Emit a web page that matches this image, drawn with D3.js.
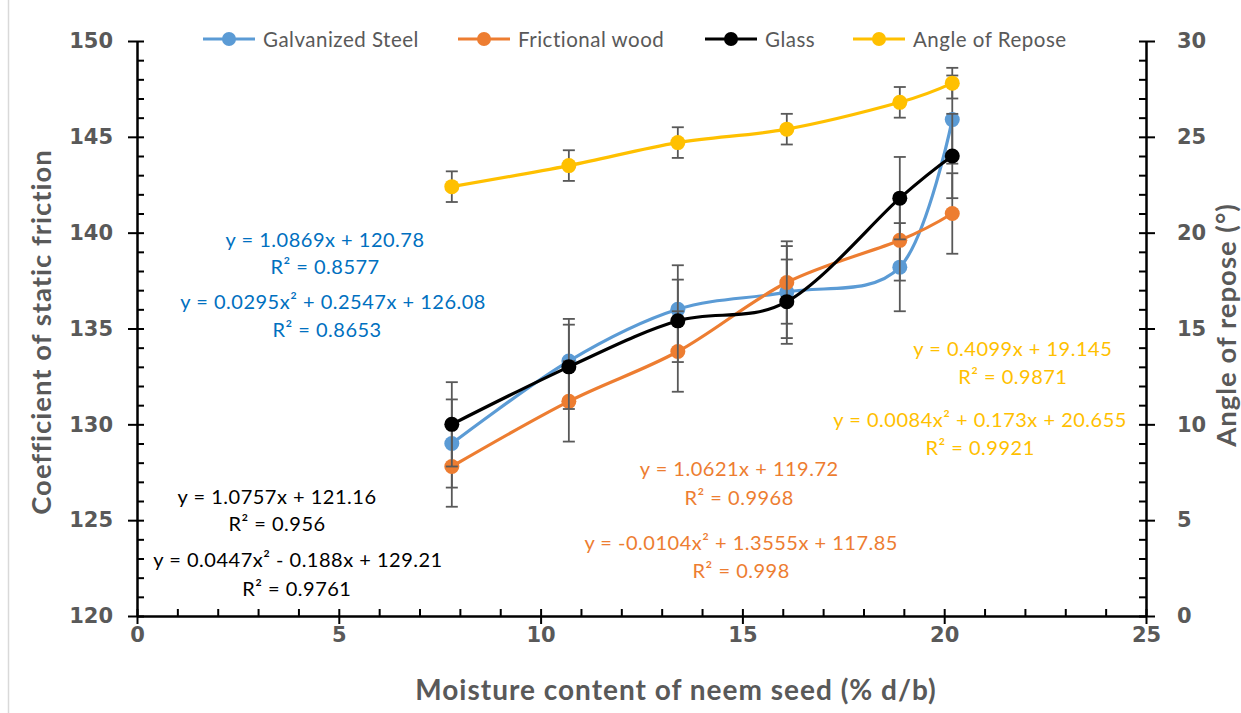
<!DOCTYPE html>
<html>
<head>
<meta charset="utf-8">
<script src="https://cdn.jsdelivr.net/npm/d3@7"></script>
<style>
    body { margin: 0; background: #fff; }
    svg { display: block; }
</style>
</head>
<body>
<svg id="drawing_region"></svg>
<script>
// moisture content (% d/b)
const moisture = [7.8, 10.7, 13.4, 16.1, 18.9, 20.2];

// coefficient of static friction (left axis)
const steel = [129.0, 133.3, 136.0, 136.9, 138.2, 145.9];
const wood = [127.8, 131.2, 133.8, 137.4, 139.6, 141.0];
const glass = [130.0, 133.0, 135.4, 136.4, 141.8, 144.0];

// angle of repose (right axis)
const repose = [22.4, 23.5, 24.7, 25.4, 26.8, 27.8];

// error bar half-lengths
const steelErr = [2.3, 2.2, 2.3, 2.4, 2.3, 2.3];
const woodErr = [2.1, 2.1, 2.1, 2.15, 2.1, 2.1];
const glassErr = [2.2, 2.2, 2.15, 2.2, 2.15, 2.2];
const reposeErr = [0.8, 0.8, 0.8, 0.8, 0.8, 0.8];

const seriesNames = ['Galvanized Steel', 'Frictional wood', 'Glass', 'Angle of Repose'];

const xTicks = [0, 5, 10, 15, 20, 25];
const yLeftTicks = [120, 125, 130, 135, 140, 145, 150];
const yRightTicks = [0, 5, 10, 15, 20, 25, 30];

// trendline equations: [x, y(left axis units), text]
const steelEq = [
    [4.66, 139.67, 'y = 1.0869x + 120.78'],
    [4.66, 138.26, 'R² = 0.8577'],
    [4.86, 136.43, 'y = 0.0295x² + 0.2547x + 126.08'],
    [4.71, 134.97, 'R² = 0.8653']
];
const glassEq = [
    [3.47, 126.26, 'y = 1.0757x + 121.16'],
    [3.47, 124.85, 'R² = 0.956'],
    [3.99, 122.97, 'y = 0.0447x² - 0.188x + 129.21'],
    [3.96, 121.46, 'R² = 0.9761']
];
const woodEq = [
    [14.92, 127.72, 'y = 1.0621x + 119.72'],
    [14.92, 126.21, 'R² = 0.9968'],
    [14.97, 123.86, 'y = -0.0104x² + 1.3555x + 117.85'],
    [14.97, 122.40, 'R² = 0.998']
];
const reposeEq = [
    [21.70, 133.98, 'y = 0.4099x + 19.145'],
    [21.70, 132.52, 'R² = 0.9871'],
    [20.89, 130.28, 'y = 0.0084x² + 0.173x + 20.655'],
    [20.89, 128.82, 'R² = 0.9921']
];

const config = {
    width: 1241,
    height: 713,
    left: 137,
    right: 1146,
    top: 41,
    bottom: 616
};

const grey = '#595959';
const colors = ['#5B9BD5', '#ED7D31', '#000000', '#FFC000'];
const textColors = ['#0070C0', '#ED7D31', '#000000', '#FFC000'];

const svg = d3.select('#drawing_region')
    .attr('width', config.width)
    .attr('height', config.height);

// faint frame edge on the left
svg.append('line')
    .attr('x1', 8.5).attr('x2', 8.5)
    .attr('y1', 0).attr('y2', config.height)
    .attr('stroke', '#d9d9d9').attr('stroke-width', 1.5);

const xscale = d3.scaleLinear().domain([0, 25]).range([config.left, config.right]);
const yleft = d3.scaleLinear().domain([120, 150]).range([config.bottom, config.top]);
const yright = d3.scaleLinear().domain([0, 30]).range([config.bottom, config.top]);

const tickFont = 'DejaVu Sans, sans-serif';
const labelFont = 'Lato, sans-serif';

function styleAxis(g) {
    g.select('.domain').attr('stroke', '#000').attr('stroke-width', 2);
    g.selectAll('.tick line').attr('stroke', '#000').attr('stroke-width', 2);
    g.selectAll('.tick text')
        .attr('fill', grey)
        .style('font-family', tickFont)
        .style('font-weight', 'bold')
        .style('font-size', '21px');
}

// minor ticks (inside)
const minor = d3.range(0, 26);
svg.append('g')
    .attr('transform', `translate(0, ${config.bottom})`)
    .call(d3.axisBottom(xscale).tickValues(minor).tickSizeInner(-7).tickSizeOuter(0).tickFormat(''))
    .call(styleAxis);
svg.append('g')
    .attr('transform', `translate(${config.left}, 0)`)
    .call(d3.axisLeft(yleft).tickValues(d3.range(120, 151)).tickSizeInner(-7).tickSizeOuter(0).tickFormat(''))
    .call(styleAxis);
svg.append('g')
    .attr('transform', `translate(${config.right}, 0)`)
    .call(d3.axisRight(yright).tickValues(d3.range(0, 31)).tickSizeInner(-7).tickSizeOuter(0).tickFormat(''))
    .call(styleAxis);

// major ticks (outside) with labels
svg.append('g')
    .attr('transform', `translate(0, ${config.bottom})`)
    .call(d3.axisBottom(xscale).tickValues(xTicks).tickSizeInner(8).tickSizeOuter(0).tickPadding(3))
    .call(styleAxis);
svg.append('g')
    .attr('transform', `translate(${config.left}, 0)`)
    .call(d3.axisLeft(yleft).tickValues(yLeftTicks).tickSizeInner(9).tickSizeOuter(0).tickPadding(15))
    .call(styleAxis);
svg.append('g')
    .attr('transform', `translate(${config.right}, 0)`)
    .call(d3.axisRight(yright).tickValues(yRightTicks).tickSizeInner(9).tickSizeOuter(0).tickPadding(22))
    .call(styleAxis);

// axis titles
const titleStyle = t => t
    .attr('fill', grey)
    .attr('text-anchor', 'middle')
    .style('font-family', labelFont)
    .style('font-weight', 'bold')
    .style('font-size', '28px')
    .style('letter-spacing', '1px');

svg.append('text')
    .attr('x', 676)
    .attr('y', 700)
    .call(titleStyle)
    .text('Moisture content of neem seed (% d/b)');

svg.append('text')
    .attr('transform', `translate(40, 332) rotate(-90)`)
    .attr('dominant-baseline', 'central')
    .call(titleStyle)
    .style('font-size', '27.5px')
    .text('Coefficient of static friction');

svg.append('text')
    .attr('transform', `translate(1225, 325) rotate(-90)`)
    .attr('dominant-baseline', 'central')
    .call(titleStyle)
    .style('font-size', '27.5px')
    .text('Angle of repose (°)');

// series
const series = [
    { values: steel, err: steelErr, y: yleft },
    { values: wood, err: woodErr, y: yleft },
    { values: glass, err: glassErr, y: yleft },
    { values: repose, err: reposeErr, y: yright }
];

const line = (yscale) => d3.line()
    .x(d => xscale(d[0]))
    .y(d => yscale(d[1]))
    .curve(d3.curveCatmullRom.alpha(0));

series.forEach((s, i) => {
    const pts = moisture.map((x, j) => [x, s.values[j], s.err[j]]);
    const g = svg.append('g');

    // error bars
    const eb = g.selectAll('g.err')
        .data(pts)
        .enter()
        .append('g')
        .attr('stroke', grey)
        .attr('stroke-width', 1.8);
    eb.append('line')
        .attr('x1', d => xscale(d[0])).attr('x2', d => xscale(d[0]))
        .attr('y1', d => s.y(d[1] - d[2])).attr('y2', d => s.y(d[1] + d[2]));
    eb.append('line')
        .attr('x1', d => xscale(d[0]) - 6).attr('x2', d => xscale(d[0]) + 6)
        .attr('y1', d => s.y(d[1] + d[2])).attr('y2', d => s.y(d[1] + d[2]));
    eb.append('line')
        .attr('x1', d => xscale(d[0]) - 6).attr('x2', d => xscale(d[0]) + 6)
        .attr('y1', d => s.y(d[1] - d[2])).attr('y2', d => s.y(d[1] - d[2]));

    g.append('path')
        .datum(pts)
        .attr('d', line(s.y))
        .attr('fill', 'none')
        .attr('stroke', colors[i])
        .attr('stroke-width', 3.2);

    g.selectAll('circle')
        .data(pts)
        .enter()
        .append('circle')
        .attr('cx', d => xscale(d[0]))
        .attr('cy', d => s.y(d[1]))
        .attr('r', 7.5)
        .attr('fill', colors[i]);
});

// trendline equations
[steelEq, woodEq, glassEq, reposeEq].forEach((eq, i) => {
    svg.append('g').selectAll('text')
        .data(eq)
        .enter()
        .append('text')
        .attr('x', d => xscale(d[0]))
        .attr('y', d => yleft(d[1]))
        .attr('text-anchor', 'middle')
        .attr('dominant-baseline', 'central')
        .attr('fill', textColors[i])
        .style('font-family', labelFont)
        .style('font-size', '20px')
        .style('letter-spacing', '0.5px')
        .text(d => d[2]);
});

// legend
const legendX = [203, 458, 705, 853];
const legend = svg.append('g')
    .selectAll('g')
    .data(seriesNames)
    .enter()
    .append('g')
    .attr('transform', (d, i) => `translate(${legendX[i]}, 39)`);
legend.append('line')
    .attr('x1', 0).attr('x2', 52)
    .attr('stroke', (d, i) => colors[i])
    .attr('stroke-width', 3.2);
legend.append('circle')
    .attr('cx', 26)
    .attr('r', 7)
    .attr('fill', (d, i) => colors[i]);
legend.append('text')
    .attr('x', 60)
    .attr('dominant-baseline', 'central')
    .attr('fill', grey)
    .style('font-family', labelFont)
    .style('font-size', '20.5px')
    .style('letter-spacing', '0.5px')
    .text(d => d);
</script>
</body>
</html>
